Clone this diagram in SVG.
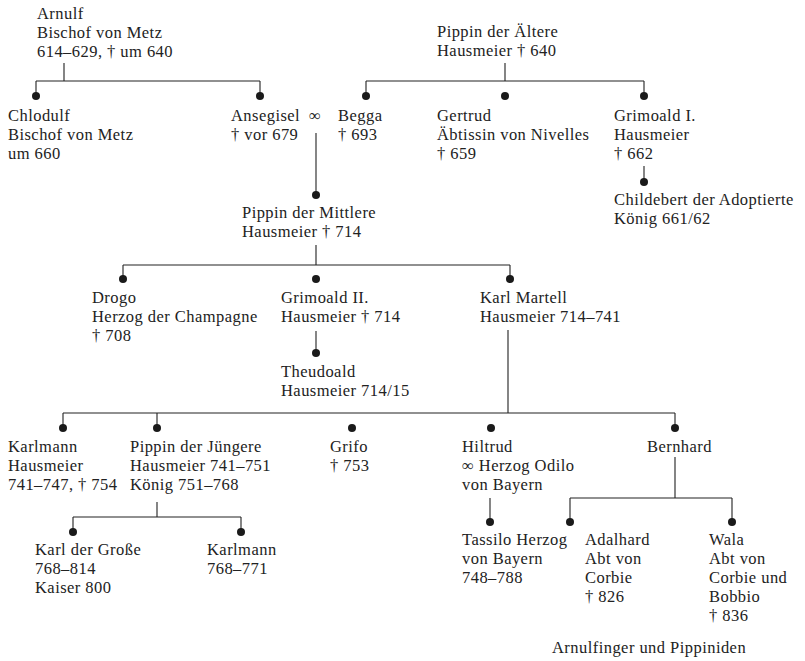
<svg xmlns="http://www.w3.org/2000/svg" width="805" height="661" viewBox="0 0 805 661">
<style>
text{font-family:"Liberation Serif","Times New Roman",serif;font-size:16.5px;letter-spacing:0.45px;fill:#222}
.c{fill:none;stroke:#222;stroke-width:1.1}
.d{fill:#1a1a1a}
</style>
<rect width="805" height="661" fill="#fff"/>
<g id="connectors">
<path class="c" d="M64 63V81M36 81H260M36 81V96M260 81V96"/>
<path class="c" d="M505 63V81M366 81H644M366 81V96M644 81V96"/>
<path class="c" d="M316 133V195"/>
<path class="c" d="M644 166V182"/>
<path class="c" d="M316 245V265M123 265H510M123 265V279M510 265V279"/>
<path class="c" d="M316 331V353"/>
<path class="c" d="M508 330V413M63 413H675M63 413V428M157 413V428M675 413V428"/>
<path class="c" d="M157 502V517M73 517H241M73 517V532M241 517V532"/>
<path class="c" d="M490 498V522"/>
<path class="c" d="M675 457V498M570 498H732M570 498V522M732 498V522"/>
<g class="d">
<circle cx="36" cy="96" r="4"/><circle cx="260" cy="96" r="4"/>
<circle cx="366" cy="96" r="4"/><circle cx="505" cy="96" r="4"/><circle cx="644" cy="96" r="4"/>
<circle cx="644" cy="182" r="4"/><circle cx="316" cy="195" r="4"/>
<circle cx="123" cy="279" r="4"/><circle cx="316" cy="279" r="4"/><circle cx="510" cy="279" r="4"/>
<circle cx="316" cy="353" r="4"/>
<circle cx="63" cy="428" r="4"/><circle cx="157" cy="428" r="4"/><circle cx="352" cy="428" r="4"/><circle cx="491" cy="428" r="4"/><circle cx="675" cy="428" r="4"/>
<circle cx="73" cy="532" r="4"/><circle cx="241" cy="532" r="4"/>
<circle cx="490" cy="522" r="4"/><circle cx="570" cy="522" r="4"/><circle cx="732" cy="522" r="4"/>
</g>
<text x="309" y="121">∞</text>
</g>
<g id="arnulf"><text x="37" y="19">Arnulf</text><text x="37" y="38">Bischof von Metz</text><text x="37" y="57">614–629, † um 640</text></g>
<g id="pippin-aeltere"><text x="437" y="37">Pippin der Ältere</text><text x="437" y="56">Hausmeier † 640</text></g>
<g id="chlodulf"><text x="8" y="121">Chlodulf</text><text x="8" y="140">Bischof von Metz</text><text x="8" y="159">um 660</text></g>
<g id="ansegisel"><text x="231" y="121">Ansegisel</text><text x="231" y="140">† vor 679</text></g>
<g id="begga"><text x="338" y="121">Begga</text><text x="338" y="140">† 693</text></g>
<g id="gertrud"><text x="437" y="121">Gertrud</text><text x="437" y="140">Äbtissin von Nivelles</text><text x="437" y="159">† 659</text></g>
<g id="grimoald1"><text x="614" y="121">Grimoald I.</text><text x="614" y="140">Hausmeier</text><text x="614" y="159">† 662</text></g>
<g id="childebert"><text x="614" y="205">Childebert der Adoptierte</text><text x="614" y="224">König 661/62</text></g>
<g id="pippin-mittlere"><text x="242" y="218">Pippin der Mittlere</text><text x="242" y="237">Hausmeier † 714</text></g>
<g id="drogo"><text x="92" y="303">Drogo</text><text x="92" y="322">Herzog der Champagne</text><text x="92" y="341">† 708</text></g>
<g id="grimoald2"><text x="281" y="303">Grimoald II.</text><text x="281" y="322">Hausmeier † 714</text></g>
<g id="karl-martell"><text x="480" y="303">Karl Martell</text><text x="480" y="322">Hausmeier 714–741</text></g>
<g id="theudoald"><text x="281" y="377">Theudoald</text><text x="281" y="396">Hausmeier 714/15</text></g>
<g id="karlmann1"><text x="8" y="452">Karlmann</text><text x="8" y="471">Hausmeier</text><text x="8" y="490">741–747, † 754</text></g>
<g id="pippin-juengere"><text x="130" y="452">Pippin der Jüngere</text><text x="130" y="471">Hausmeier 741–751</text><text x="130" y="490">König 751–768</text></g>
<g id="grifo"><text x="330" y="452">Grifo</text><text x="330" y="471">† 753</text></g>
<g id="hiltrud"><text x="462" y="452">Hiltrud</text><text x="462" y="471">∞ Herzog Odilo</text><text x="462" y="490">von Bayern</text></g>
<g id="bernhard"><text x="647" y="452">Bernhard</text></g>
<g id="karl-der-grosse"><text x="35" y="555">Karl der Große</text><text x="35" y="574">768–814</text><text x="35" y="593">Kaiser 800</text></g>
<g id="karlmann2"><text x="207" y="555">Karlmann</text><text x="207" y="574">768–771</text></g>
<g id="tassilo"><text x="462" y="545">Tassilo Herzog</text><text x="462" y="564">von Bayern</text><text x="462" y="583">748–788</text></g>
<g id="adalhard"><text x="585" y="545">Adalhard</text><text x="585" y="564">Abt von</text><text x="585" y="583">Corbie</text><text x="585" y="602">† 826</text></g>
<g id="wala"><text x="709" y="545">Wala</text><text x="709" y="564">Abt von</text><text x="709" y="583">Corbie und</text><text x="709" y="602">Bobbio</text><text x="709" y="621">† 836</text></g>
<g id="title"><text x="552" y="653">Arnulfinger und Pippiniden</text></g>
</svg>
